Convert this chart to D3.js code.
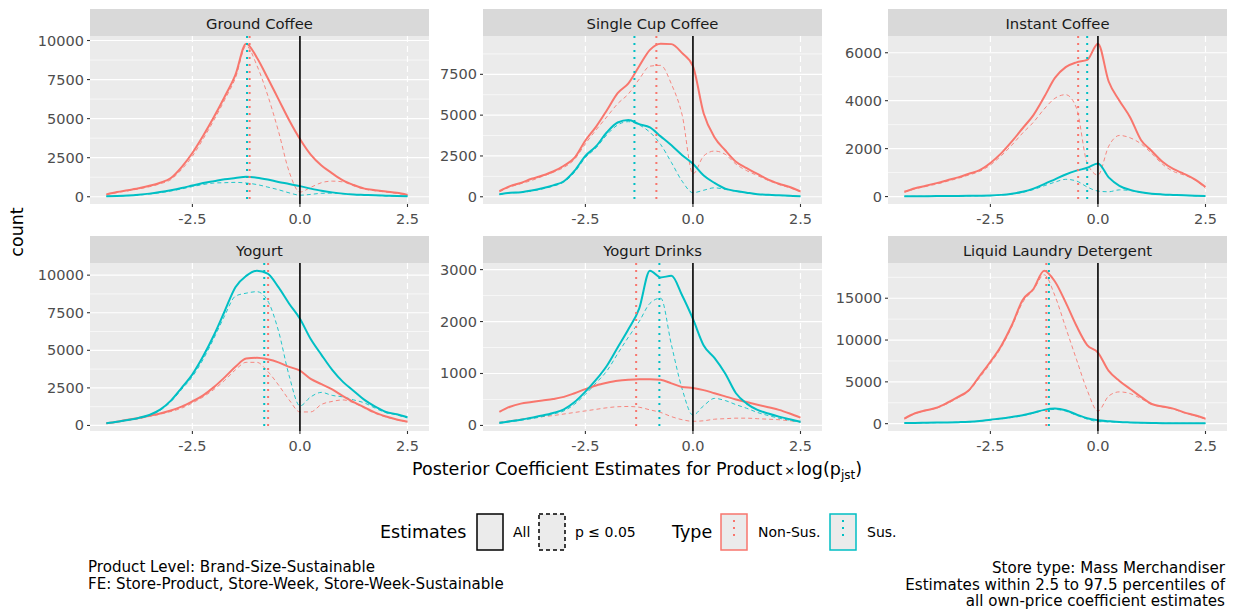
<!DOCTYPE html>
<html>
<head>
<meta charset="utf-8">
<script src="https://cdn.jsdelivr.net/npm/d3@7"></script>
<style>
body { margin: 0; background: #fff; }
svg { font-family: "DejaVu Sans", sans-serif; display: block; }
</style>
</head>
<body>
<div id="chart"></div>
<script>
const width = 1237;
const height = 609;

// Facets
const panels = ["Ground Coffee", "Single Cup Coffee", "Instant Coffee",
    "Yogurt", "Yogurt Drinks", "Liquid Laundry Detergent"];

// Bin centres of the frequency polygons
const xBins = [-4.5, -4.25, -4.0, -3.75, -3.5, -3.25, -3.0, -2.75, -2.5, -2.25, -2.0,
    -1.75, -1.5, -1.25, -1.0, -0.75, -0.5, -0.25, 0, 0.25, 0.5, 0.75, 1.0,
    1.25, 1.5, 1.75, 2.0, 2.25, 2.5];
const xLimits = [-4.88, 3.0];
const xTicks = [-2.5, 0, 2.5];

// Non-sustainable, all estimates
const nonSusAll = [
    [150,300,420,550,700,900,1200,1900,2800,3900,5100,6400,7800,9800,8900,7600,6250,4900,3700,2700,2000,1500,1050,750,520,420,330,250,120],
    [350,650,850,1100,1300,1550,1900,2400,3450,4300,5300,6350,6950,8000,9000,9380,9350,8800,8000,5100,3650,2850,2150,1750,1400,1050,800,600,330],
    [200,350,450,560,680,800,950,1100,1400,1800,2300,2850,3400,4150,4950,5400,5600,5700,6380,4800,4000,3300,2360,1900,1450,1150,950,720,400],
    [150,250,380,500,650,800,1000,1250,1600,2000,2550,3200,3900,4450,4500,4400,4200,3900,3650,3100,2750,2400,1950,1550,1200,850,600,400,250],
    [260,360,420,450,480,510,550,620,700,770,820,860,880,890,890,880,810,740,720,680,620,560,500,450,400,350,300,230,150],
    [600,1250,1600,1900,2500,3200,4000,5700,7400,9300,11800,14800,16100,18300,17000,14500,11700,9400,8500,6300,5100,4150,3200,2350,2050,1800,1350,1000,600]
];

// Non-sustainable, p <= 0.05
const nonSusSig = [
    [130,270,380,500,640,830,1100,1750,2600,3700,4900,6200,7600,9650,8400,6500,4200,1600,300,600,900,1000,950,700,480,380,300,220,100],
    [300,600,800,1000,1250,1500,1800,2300,3250,4100,4900,5700,6300,7200,8000,8050,6900,5000,1400,2500,2800,2600,2000,1600,1300,1000,750,550,300],
    [180,320,420,520,640,760,900,1050,1320,1700,2150,2650,3100,3650,4100,4250,3700,1400,900,2100,2550,2450,2200,1800,1350,1050,900,700,350],
    [140,230,350,460,600,750,930,1150,1500,1900,2400,3000,3700,4200,4200,3600,2700,1700,900,900,1400,1600,1700,1500,1150,800,560,380,230],
    [60,90,120,150,170,190,220,250,280,310,340,360,365,350,300,250,170,110,80,90,120,130,140,140,130,120,110,90,70],
    [550,1200,1550,1850,2400,3100,3900,5500,7200,9100,11600,14500,16000,17800,15300,11500,7700,4000,1500,3300,3800,3600,3000,2300,2000,1750,1300,950,550]
];

// Sustainable, all estimates
const susAll = [
    [30,50,80,130,200,300,420,560,720,880,1000,1120,1200,1280,1220,1100,950,820,680,520,380,280,200,150,120,90,70,50,40],
    [150,250,280,380,520,700,950,1600,2500,3100,3950,4550,4700,4450,4250,3700,3150,2550,2020,1300,850,500,350,250,160,120,90,60,30],
    [10,12,15,18,20,25,30,35,45,70,120,200,330,520,720,920,1080,1200,1380,800,450,280,180,120,90,70,50,35,25],
    [150,250,370,500,700,1050,1650,2500,3400,4600,6000,7600,9200,9950,10300,10100,9200,8100,7100,5750,4700,3700,2900,2300,1700,1250,900,750,550],
    [50,80,110,150,190,240,310,450,650,880,1150,1500,1850,2250,2980,2850,2880,2500,2050,1540,1300,1000,620,420,300,230,170,120,70],
    [80,90,110,130,150,180,220,320,480,620,800,1000,1300,1650,1800,1600,1100,650,420,300,200,150,110,80,60,50,45,40,40]
];

// Sustainable, p <= 0.05
const susSig = [
    [25,45,70,110,170,260,370,500,650,780,880,900,920,880,780,620,450,250,100,150,220,230,190,140,110,80,60,45,35],
    [140,230,260,350,480,650,900,1500,2400,3000,3800,4400,4600,4400,3950,3200,2100,950,250,400,550,450,330,240,150,110,80,55,25],
    [8,10,12,15,18,22,27,32,40,62,105,175,290,450,600,720,650,400,230,200,280,250,170,115,85,65,48,33,22],
    [140,230,350,470,660,1000,1580,2400,3250,4400,5800,7300,8600,8800,8900,8300,6300,3300,1300,1900,2200,2000,1900,1700,1500,1150,850,700,500],
    [40,70,100,130,170,220,280,410,600,820,1050,1380,1700,2000,2350,2450,1550,700,200,380,520,480,400,330,250,190,140,100,60],
    [70,80,100,120,140,170,200,300,450,580,750,950,1250,1600,1700,1500,1000,550,250,220,170,130,100,70,55,45,40,35,35]
];

// Median estimate per type
const medianNonSus = [-1.17, -0.85, -0.46, -0.74, -1.32, -1.2];
const medianSus = [-1.23, -1.36, -0.25, -0.83, -0.78, -1.14];

// y ticks per facet
const yTicks = [
    [0, 2500, 5000, 7500, 10000],
    [0, 2500, 5000, 7500],
    [0, 2000, 4000, 6000],
    [0, 2500, 5000, 7500, 10000],
    [0, 1000, 2000, 3000],
    [0, 5000, 10000, 15000]
];

const colors = { non: "#F8766D", sus: "#00BFC4" };

// Layout
const colX = [90, 483, 888];
const rowY = [36, 263];
const panelW = 339;
const panelH = 168;
const stripH = 27;

const svg = d3.select("#chart")
    .append("svg")
    .attr("width", width)
    .attr("height", height)
    .attr("viewBox", `0 0 ${width} ${height}`);

panels.forEach((name, i) => {
    const x0 = colX[i % 3];
    const y0 = rowY[Math.floor(i / 3)];
    const g = svg.append("g");

    const series = [
        { type: "non", all: false, values: nonSusSig[i] },
        { type: "sus", all: false, values: susSig[i] },
        { type: "non", all: true, values: nonSusAll[i] },
        { type: "sus", all: true, values: susAll[i] }
    ];

    const vals = series.flatMap(s => s.values);
    const lo = d3.min(vals), hi = d3.max(vals);
    const pad = (hi - lo) * 0.05;

    const x = d3.scaleLinear().domain(xLimits).range([x0, x0 + panelW]);
    const y = d3.scaleLinear().domain([lo - pad, hi + pad]).range([y0 + panelH, y0]);

    // panel background
    g.append("rect")
        .attr("x", x0).attr("y", y0)
        .attr("width", panelW).attr("height", panelH)
        .attr("fill", "#EBEBEB");

    // horizontal grid (minor then major)
    const ticks = yTicks[i];
    const step = ticks[1] - ticks[0];
    const minor = ticks.map(t => t + step / 2).filter(t => t < y.domain()[1]);
    g.selectAll(".minor").data(minor).join("line")
        .attr("x1", x0).attr("x2", x0 + panelW)
        .attr("y1", d => y(d)).attr("y2", d => y(d))
        .attr("stroke", "#fff").attr("stroke-width", 0.6);
    g.selectAll(".major").data(ticks).join("line")
        .attr("x1", x0).attr("x2", x0 + panelW)
        .attr("y1", d => y(d)).attr("y2", d => y(d))
        .attr("stroke", "#fff").attr("stroke-width", 1.2);

    // dashed white guides at +-2.5
    g.selectAll(".guide").data([-2.5, 2.5]).join("line")
        .attr("x1", d => x(d)).attr("x2", d => x(d))
        .attr("y1", y0).attr("y2", y0 + panelH)
        .attr("stroke", "#fff").attr("stroke-width", 1.2)
        .attr("stroke-dasharray", "6,4");

    const line = d3.line()
        .x((d, j) => x(xBins[j]))
        .y(d => y(d))
        .curve(d3.curveMonotoneX);

    g.selectAll(".curve").data(series).join("path")
        .attr("d", d => line(d.values))
        .attr("fill", "none")
        .attr("stroke", d => colors[d.type])
        .attr("stroke-width", d => d.all ? 2 : 1)
        .attr("stroke-dasharray", d => d.all ? null : "4,3")
        .attr("opacity", d => d.all ? 1 : 0.85);

    // medians
    const medians = [
        { type: "non", v: medianNonSus[i] },
        { type: "sus", v: medianSus[i] }
    ];
    g.selectAll(".median").data(medians).join("line")
        .attr("x1", d => x(d.v)).attr("x2", d => x(d.v))
        .attr("y1", y0).attr("y2", y0 + panelH)
        .attr("stroke", d => colors[d.type])
        .attr("stroke-width", 2)
        .attr("stroke-dasharray", "2,5");

    // zero line
    g.append("line")
        .attr("x1", x(0)).attr("x2", x(0))
        .attr("y1", y0).attr("y2", y0 + panelH)
        .attr("stroke", "#000").attr("stroke-width", 1.6);

    // strip
    g.append("rect")
        .attr("x", x0).attr("y", y0 - stripH)
        .attr("width", panelW).attr("height", stripH)
        .attr("fill", "#D9D9D9");
    g.append("text")
        .attr("x", x0 + panelW / 2).attr("y", y0 - stripH / 2 + 1)
        .attr("text-anchor", "middle")
        .attr("dominant-baseline", "central")
        .attr("font-size", 14.8)
        .attr("fill", "#1A1A1A")
        .text(name);

    // y axis
    g.selectAll(".ytick").data(ticks).join("line")
        .attr("x1", x0 - 3).attr("x2", x0)
        .attr("y1", d => y(d)).attr("y2", d => y(d))
        .attr("stroke", "#333").attr("stroke-width", 1.1);
    g.selectAll(".ylab").data(ticks).join("text")
        .attr("x", x0 - 6).attr("y", d => y(d))
        .attr("text-anchor", "end")
        .attr("dominant-baseline", "central")
        .attr("font-size", 14.5)
        .attr("fill", "#4D4D4D")
        .text(d => d3.format("d")(d));

    // x axis
    g.selectAll(".xtick").data(xTicks).join("line")
        .attr("x1", d => x(d)).attr("x2", d => x(d))
        .attr("y1", y0 + panelH).attr("y2", y0 + panelH + 3)
        .attr("stroke", "#333").attr("stroke-width", 1.1);
    g.selectAll(".xlab").data(xTicks).join("text")
        .attr("x", d => x(d)).attr("y", y0 + panelH + 20)
        .attr("text-anchor", "middle")
        .attr("font-size", 14.5)
        .attr("fill", "#4D4D4D")
        .text(d => d.toFixed(1));
});

// Axis titles
svg.append("text")
    .attr("transform", "translate(23,232) rotate(-90)")
    .attr("text-anchor", "middle")
    .attr("font-size", 17.5)
    .text("count");

const xTitle = svg.append("text")
    .attr("x", 637).attr("y", 475)
    .attr("text-anchor", "middle")
    .attr("font-size", 17.5);
xTitle.append("tspan").text("Posterior Coefficient Estimates for Product");
xTitle.append("tspan").attr("font-size", 13).attr("dx", 2).text("×");
xTitle.append("tspan").attr("dx", 1).text("log(p");
xTitle.append("tspan").attr("font-size", 12).attr("dy", 4).text("jst");
xTitle.append("tspan").attr("dy", -4).text(")");

// Legend
const legend = svg.append("g");
const legY = 514, keyW = 26, keyH = 36, textY = 538;

legend.append("text").attr("x", 380).attr("y", textY)
    .attr("font-size", 17.5).text("Estimates");

const estKeys = [
    { x: 477, dash: null, label: "All", lx: 513 },
    { x: 539, dash: "4,3", label: "p ≤ 0.05", lx: 575 }
];
estKeys.forEach(k => {
    legend.append("rect")
        .attr("x", k.x).attr("y", legY).attr("width", keyW).attr("height", keyH)
        .attr("fill", "#EBEBEB").attr("stroke", "#000").attr("stroke-width", 1.5)
        .attr("stroke-dasharray", k.dash);
    legend.append("text").attr("x", k.lx).attr("y", textY - 1)
        .attr("font-size", 14).text(k.label);
});

legend.append("text").attr("x", 672).attr("y", textY)
    .attr("font-size", 17.5).text("Type");

const typeKeys = [
    { x: 721, color: colors.non, label: "Non-Sus.", lx: 758 },
    { x: 830, color: colors.sus, label: "Sus.", lx: 867 }
];
typeKeys.forEach(k => {
    legend.append("rect")
        .attr("x", k.x).attr("y", legY).attr("width", keyW).attr("height", keyH)
        .attr("fill", "#EBEBEB").attr("stroke", k.color).attr("stroke-width", 1.5);
    legend.append("line")
        .attr("x1", k.x + keyW / 2).attr("x2", k.x + keyW / 2)
        .attr("y1", legY + 6).attr("y2", legY + keyH - 10)
        .attr("stroke", k.color).attr("stroke-width", 2)
        .attr("stroke-dasharray", "2,5");
    legend.append("text").attr("x", k.lx).attr("y", textY - 1)
        .attr("font-size", 14).text(k.label);
});

// Captions
const leftCaption = ["Product Level: Brand-Size-Sustainable",
    "FE: Store-Product, Store-Week, Store-Week-Sustainable"];
const rightCaption = ["Store type: Mass Merchandiser",
    "Estimates within 2.5 to 97.5 percentiles of",
    "all own-price coefficient estimates"];

svg.selectAll(".capL").data(leftCaption).join("text")
    .attr("x", 88).attr("y", (d, i) => 572 + i * 16.5)
    .attr("font-size", 15.1)
    .text(d => d);

svg.selectAll(".capR").data(rightCaption).join("text")
    .attr("x", 1225).attr("y", (d, i) => 573 + i * 16.5)
    .attr("text-anchor", "end")
    .attr("font-size", 15.1)
    .text(d => d);
</script>
</body>
</html>
